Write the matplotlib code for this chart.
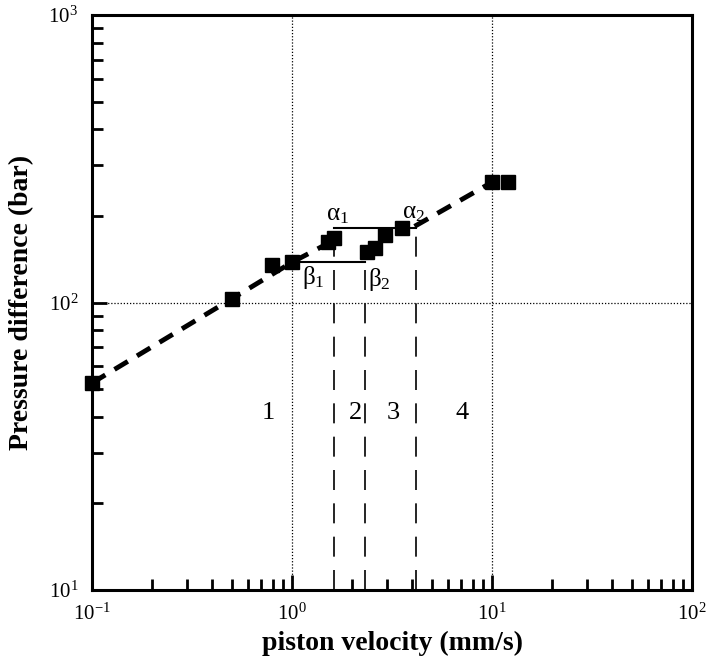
import numpy as np
import matplotlib
matplotlib.use("Agg")
import matplotlib.pyplot as plt

plt.rcParams['font.family'] = ['Liberation Serif', 'DejaVu Serif']
plt.rcParams['mathtext.fontset'] = 'custom'
plt.rcParams['mathtext.rm'] = 'Liberation Serif'
plt.rcParams['mathtext.it'] = 'Liberation Serif'
plt.rcParams['mathtext.bf'] = 'Liberation Serif:bold'

# ── Datos ─────────────────────────────────────────────────────────────────────
velocity = [0.1, 0.5, 0.79, 1.0, 1.51, 1.62, 2.37, 2.6, 2.92, 3.55, 10.0, 12.0]
pressure = [52.5, 103, 135, 138, 162, 168, 150, 155, 172, 181, 262, 263]

# tramos de ajuste (línea discontinua gruesa)
fit1_v = [0.1, 0.5, 1.0, 1.5]
fit1_p = [52.5, 103, 138, 160]
fit2_v = [4.1, 10.0]
fit2_p = [184, 262]

# niveles alfa / beta
alpha_v = [1.62, 4.15]
alpha_p = 181
beta_v = [1.0, 2.32]
beta_p = 138

# líneas verticales de transición (x, y superior)
trans_v = [1.62, 2.32, 4.15]
trans_top = [181, 138, 181]

regions = ["1", "2", "3", "4"]
region_v = [0.76, 2.07, 3.2, 7.08]
region_p = 41.3

# ── Figura ────────────────────────────────────────────────────────────────────
fig = plt.figure(figsize=(7.1, 6.6), dpi=100)
ax = fig.add_axes([92 / 710, 70 / 660, 600 / 710, 575 / 660])
ax.set_xscale("log")
ax.set_yscale("log")
ax.set_xlim(0.1, 100)
ax.set_ylim(10, 1000)

ax.grid(True, which="major", ls=(0, (1, 1.5)), color="k", lw=0.9)

ax.plot(fit1_v, fit1_p, color="k", lw=3.5, ls=(0, (3.2, 2.2)), zorder=2)
ax.plot(fit2_v, fit2_p, color="k", lw=3.5, ls=(0, (3.2, 2.2)), zorder=2)

ax.plot(alpha_v, [alpha_p, alpha_p], color="k", lw=1.5, zorder=2)
ax.plot(beta_v, [beta_p, beta_p], color="k", lw=1.5, zorder=2)
for v, top in zip(trans_v, trans_top):
    ax.plot([v, v], [10, top], color="k", lw=1.2, ls=(0, (12, 8)), zorder=2)

ax.plot(velocity, pressure, "s", color="k", ms=10, zorder=3, clip_on=False)

ax.text(1.68, 201, r"$\alpha_1$", fontsize=18, ha="center", va="center")
ax.text(4.03, 205, r"$\alpha_2$", fontsize=18, ha="center", va="center")
ax.text(1.27, 122, r"$\beta_1$", fontsize=18, ha="center", va="center")
ax.text(2.72, 120, r"$\beta_2$", fontsize=18, ha="center", va="center")

for lab, v in zip(regions, region_v):
    ax.text(v, region_p, lab, fontsize=19, ha="center", va="center")

for sp in ax.spines.values():
    sp.set_linewidth(2.2)

ax.tick_params(which="both", direction="in", top=False, right=False,
               labelsize=15, pad=10)
ax.tick_params(which="major", length=11, width=2)
ax.tick_params(which="minor", length=8, width=2)

ax.set_xlabel("piston velocity (mm/s)", fontsize=20, fontweight="bold", labelpad=4)
ax.set_ylabel("Pressure difference (bar)", fontsize=20, fontweight="bold", labelpad=10)

fig.savefig("out.png", dpi=100)
